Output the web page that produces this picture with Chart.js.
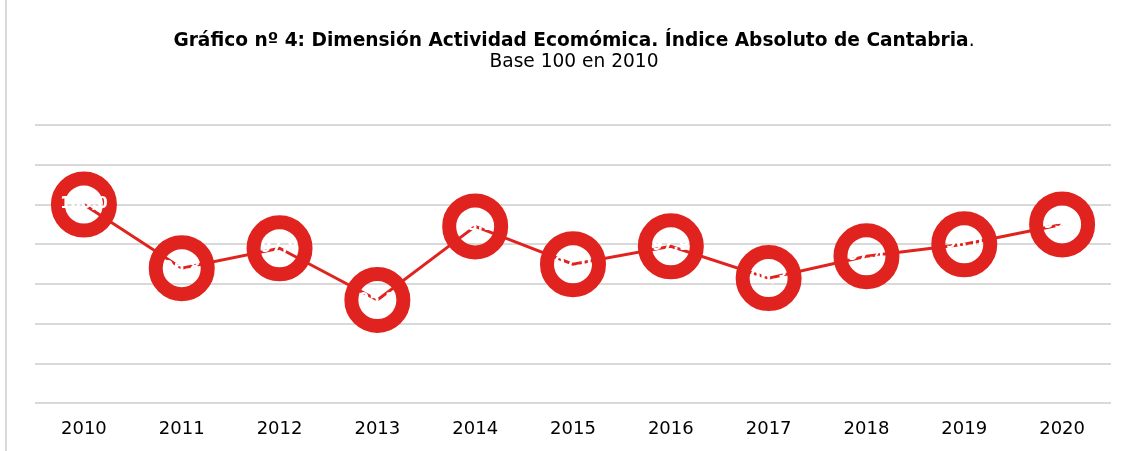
<!DOCTYPE html>
<html>
<head>
<meta charset="utf-8">
<script src="https://cdn.jsdelivr.net/npm/chart.js@4/dist/chart.umd.min.js"></script>
<style>
  html, body { margin: 0; padding: 0; background: #fff; }
  #wrap { position: relative; width: 1128px; height: 451px; }
  #wrap::before { content: ""; position: absolute; left: 5px; top: 0; bottom: 0; border-left: 2px solid #d9d9d9; }
  canvas { display: block; }
</style>
</head>
<body>
<div id="wrap"><canvas id="c" width="1128" height="451"></canvas></div>
<script>
const categories = ['2010','2011','2012','2013','2014','2015','2016','2017','2018','2019','2020'];
const values = [100.0, 96.8, 97.8, 95.2, 98.9, 97.0, 97.9, 96.3, 97.4, 98.0, 99.0];
const titleBold = 'Gráfico nº 4: Dimensión Actividad Ecomómica. Índice Absoluto de Cantabria';
const titleTail = '.';
const subtitle = 'Base 100 en 2010';
const yMin = 90, yMax = 104, yStep = 2;

const RED = '#e0231f';

const titlePlugin = {
  id: 'mixedTitle',
  afterDraw(chart) {
    const ctx = chart.ctx;
    ctx.save();
    ctx.textBaseline = 'middle';
    ctx.fillStyle = '#000';
    const bFont = 'bold 18.6px "DejaVu Sans", Verdana, sans-serif';
    const nFont = '18.6px "DejaVu Sans", Verdana, sans-serif';
    ctx.font = bFont;
    const wb = ctx.measureText(titleBold).width;
    ctx.font = nFont;
    const wt = ctx.measureText(titleTail).width;
    const cx = 574;
    let x = cx - (wb + wt) / 2;
    ctx.textAlign = 'left';
    ctx.font = bFont;
    ctx.fillText(titleBold, x, 41);
    ctx.font = nFont;
    ctx.fillText(titleTail, x + wb, 41);
    ctx.textAlign = 'center';
    ctx.fillText(subtitle, cx, 62);
    ctx.restore();
  }
};

const labelPlugin = {
  id: 'whiteLabels',
  afterDatasetsDraw(chart) {
    const ctx = chart.ctx;
    const meta = chart.getDatasetMeta(0);
    ctx.save();
    ctx.font = 'bold 15px "DejaVu Sans", Verdana, sans-serif';
    ctx.fillStyle = '#ffffff';
    ctx.textAlign = 'center';
    ctx.textBaseline = 'middle';
    meta.data.forEach((pt, i) => {
      const txt = values[i].toFixed(1).replace('.', ',');
      ctx.fillText(txt, pt.x, pt.y);
    });
    ctx.restore();
  }
};

new Chart(document.getElementById('c'), {
  type: 'line',
  data: {
    labels: categories,
    datasets: [{
      data: values,
      borderColor: RED,
      borderWidth: 3,
      pointRadius: 26,
      pointHoverRadius: 26,
      pointBorderWidth: 14,
      pointBorderColor: RED,
      pointBackgroundColor: 'rgba(255,255,255,0)',
      tension: 0,
      fill: false,
      clip: false
    }]
  },
  options: {
    responsive: false,
    animation: false,
    events: [],
    layout: { autoPadding: false, padding: { left: 35, right: 17, top: 125, bottom: -4 } },
    plugins: { legend: { display: false }, tooltip: { enabled: false }, title: { display: false } },
    scales: {
      x: {
        offset: true,
        grid: { display: false, drawTicks: false },
        border: { display: false },
        ticks: { color: '#000', font: { family: '"DejaVu Sans", Verdana, sans-serif', size: 18 }, padding: 15, maxRotation: 0 }
      },
      y: {
        min: yMin, max: yMax,
        ticks: { display: false, stepSize: yStep },
        grid: { color: '#d9d9d9', lineWidth: 2, drawTicks: false },
        border: { display: false }
      }
    }
  },
  plugins: [titlePlugin, labelPlugin]
});
</script>
</body>
</html>
